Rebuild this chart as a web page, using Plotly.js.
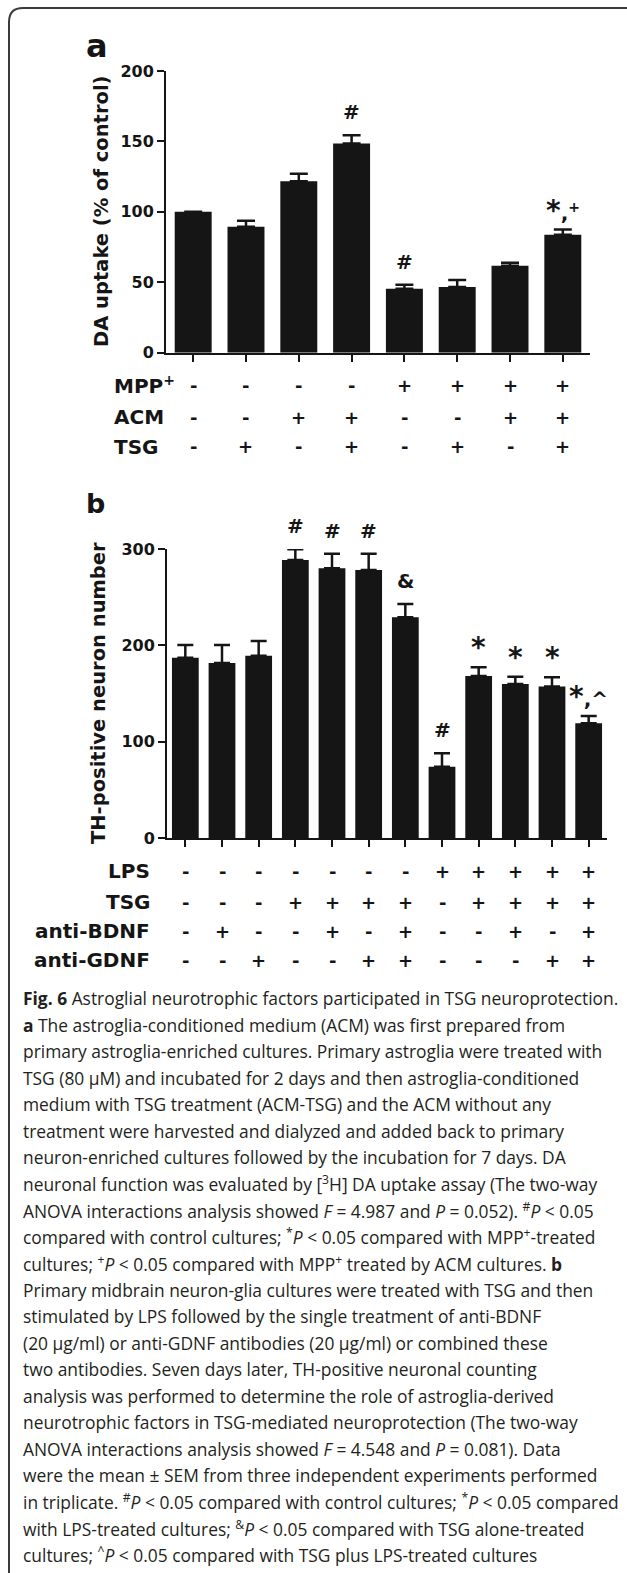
<!DOCTYPE html>
<html><head><meta charset="utf-8">
<script src="https://cdn.plot.ly/plotly-3.0.1.min.js"></script>
<style>html,body{margin:0;padding:0;background:#fff;} #chart{width:627px;height:1573px;}</style>
</head><body><div id="chart"></div>
<script>
// ---------- Panel a data ----------
const catA = ['Control','TSG','ACM','ACM+TSG','MPP+','MPP+ TSG','MPP+ ACM','MPP+ ACM TSG'];
const valA = [100, 89.5, 121.8, 148.6, 45.4, 46.6, 61.8, 83.8];
const semA = [0, 4.1, 5.2, 5.7, 2.8, 5.0, 2.1, 3.6];
const sigA = ['', '', '', '#', '#', '', '', '*,+'];
const rowLabelsA = ['MPP<sup>+</sup>', 'ACM', 'TSG'];
const rowMPP = ['-','-','-','-','+','+','+','+'];
const rowACM = ['-','-','+','+','-','-','+','+'];
const rowTSGa = ['-','+','-','+','-','+','-','+'];
const yTicksA = [0, 50, 100, 150, 200];
const yTitleA = 'DA uptake (% of control)';

// ---------- Panel b data ----------
const catB = ['Control','anti-BDNF','anti-GDNF','TSG','TSG+aB','TSG+aG','TSG+aB+aG','LPS','LPS+TSG','LPS+TSG+aB','LPS+TSG+aG','LPS+TSG+aB+aG'];
const valB = [187.3, 181.8, 189.4, 288.7, 280.0, 278.3, 229.3, 74.3, 168.4, 160.0, 157.3, 119.3];
const semB = [13.2, 18.7, 15.3, 11.1, 15.0, 16.7, 13.7, 13.9, 9.0, 7.6, 9.7, 7.6];
const sigB = ['', '', '', '#', '#', '#', '&', '#', '*', '*', '*', '*,^'];
const rowLabelsB = ['LPS', 'TSG', 'anti-BDNF', 'anti-GDNF'];
const rowLPS  = ['-','-','-','-','-','-','-','+','+','+','+','+'];
const rowTSGb = ['-','-','-','+','+','+','+','-','+','+','+','+'];
const rowBDNF = ['-','+','-','-','+','-','+','-','-','+','-','+'];
const rowGDNF = ['-','-','+','-','-','+','+','-','-','-','+','+'];
const yTicksB = [0, 100, 200, 300];
const yTitleB = 'TH-positive neuron number';

// ---------- Caption ----------
const caption = [
 '<b>Fig. 6</b> Astroglial neurotrophic factors participated in TSG neuroprotection.',
 '<b>a</b> The astroglia-conditioned medium (ACM) was first prepared from',
 'primary astroglia-enriched cultures. Primary astroglia were treated with',
 'TSG (80 µM) and incubated for 2 days and then astroglia-conditioned',
 'medium with TSG treatment (ACM-TSG) and the ACM without any',
 'treatment were harvested and dialyzed and added back to primary',
 'neuron-enriched cultures followed by the incubation for 7 days. DA',
 'neuronal function was evaluated by [<sup>3</sup>H] DA uptake assay (The two-way',
 'ANOVA interactions analysis showed <i>F</i> = 4.987 and <i>P</i> = 0.052). <sup>#</sup><i>P</i> &lt; 0.05',
 'compared with control cultures; <sup>*</sup><i>P</i> &lt; 0.05 compared with MPP<sup>+</sup>-treated',
 'cultures; <sup>+</sup><i>P</i> &lt; 0.05 compared with MPP<sup>+</sup> treated by ACM cultures. <b>b</b>',
 'Primary midbrain neuron-glia cultures were treated with TSG and then',
 'stimulated by LPS followed by the single treatment of anti-BDNF',
 '(20 µg/ml) or anti-GDNF antibodies (20 µg/ml) or combined these',
 'two antibodies. Seven days later, TH-positive neuronal counting',
 'analysis was performed to determine the role of astroglia-derived',
 'neurotrophic factors in TSG-mediated neuroprotection (The two-way',
 'ANOVA interactions analysis showed <i>F</i> = 4.548 and <i>P</i> = 0.081). Data',
 'were the mean ± SEM from three independent experiments performed',
 'in triplicate. <sup>#</sup><i>P</i> &lt; 0.05 compared with control cultures; <sup>*</sup><i>P</i> &lt; 0.05 compared',
 'with LPS-treated cultures; <sup>&amp;</sup><i>P</i> &lt; 0.05 compared with TSG alone-treated',
 'cultures; <sup>^</sup><i>P</i> &lt; 0.05 compared with TSG plus LPS-treated cultures'
];

// ---------- helpers / styles ----------
const W = 627, H = 1573;
const px = x => x / W;
const py = y => 1 - y / H;
const BOLD = 'DejaVu Sans, Liberation Sans, Arial, sans-serif';
const INK = '#151515';
const boldFont = (s) => ({family: BOLD, size: s, color: INK, weight: 'bold'});

function sigHtml(s) {
  return s.replace('*', '<span style="font-size:28px">*</span>').replace(',+', ',<sup>+</sup>');
}
// a zero SEM draws no error bar
const errArr = a => a.map(v => (v > 0 ? v : NaN));

const traces = [
  {type:'bar', x: catA, y: valA, xaxis:'x', yaxis:'y', width: 0.70,
   marker:{color: INK, line:{width:0}},
   error_y:{type:'data', symmetric:false, array: errArr(semA), arrayminus: semA.map(()=>0),
            thickness: 2.5, width: 9, color: INK},
   hoverinfo:'skip'},
  {type:'bar', x: catB, y: valB, xaxis:'x2', yaxis:'y2', width: 0.73,
   marker:{color: INK, line:{width:0}},
   error_y:{type:'data', symmetric:false, array: errArr(semB), arrayminus: semB.map(()=>0),
            thickness: 2.5, width: 8, color: INK},
   hoverinfo:'skip'}
];

const ann = [];
// panel letters
ann.push({text:'<b>a</b>', xref:'paper', yref:'paper', x: px(84), y: py(46), xanchor:'left', yanchor:'middle',
          showarrow:false, font: boldFont(32)});
ann.push({text:'<b>b</b>', xref:'paper', yref:'paper', x: px(84), y: py(503), xanchor:'left', yanchor:'middle',
          showarrow:false, font: boldFont(27)});
// y titles
ann.push({text:'<b>'+yTitleA+'</b>', xref:'paper', yref:'paper', x: px(101), y: py(211), xanchor:'center', yanchor:'middle',
          textangle:-90, showarrow:false, font: boldFont(19.5)});
ann.push({text:'<b>'+yTitleB+'</b>', xref:'paper', yref:'paper', x: px(98), y: py(693), xanchor:'center', yanchor:'middle',
          textangle:-90, showarrow:false, font: boldFont(19.5)});

// significance marks
function addSig(cats, vals, sems, sigs, xr, yr) {
  sigs.forEach((s, i) => {
    if (!s) return;
    const star = s.startsWith('*');
    ann.push({text:'<b>'+sigHtml(s)+'</b>', xref: xr, yref: yr, x: cats[i], y: vals[i] + sems[i],
              xanchor:'center', yanchor:'bottom', yshift: star ? 1 : 9, showarrow:false, font: boldFont(20)});
  });
}
addSig(catA, valA, semA, sigA, 'x', 'y');
addSig(catB, valB, semB, sigB, 'x2', 'y2');

// tables
function addRows(cats, rows, labels, rowY, xr, labelX, labelAnchor) {
  rows.forEach((row, r) => {
    ann.push({text:'<b>'+labels[r]+'</b>', xref:'paper', yref:'paper', x: px(labelX), y: py(rowY[r]),
              xanchor: labelAnchor, yanchor:'middle', showarrow:false, font: boldFont(20)});
    row.forEach((s, i) => {
      ann.push({text:'<b>'+s+'</b>', xref: xr, yref:'paper', x: cats[i], y: py(rowY[r]),
                xanchor:'center', yanchor:'middle', showarrow:false, font: boldFont(18)});
    });
  });
}
addRows(catA, [rowMPP, rowACM, rowTSGa], rowLabelsA, [385, 417, 447], 'x', 112, 'left');
addRows(catB, [rowLPS, rowTSGb, rowBDNF, rowGDNF], rowLabelsB, [871, 902, 931, 960], 'x2', 152, 'right');

// caption
caption.forEach((line, i) => {
  ann.push({text: line, xref:'paper', yref:'paper', x: px(21), y: py(998 + i * 26.5),
            xanchor:'left', yanchor:'middle', showarrow:false, align:'left',
            font:{family:'Open Sans, Lato, sans-serif', size: 17.4, color:'#231f20'}});
});

const axX = {showline:true, linewidth:2, linecolor:INK, ticks:'outside', ticklen:7, tickwidth:2, tickcolor:INK,
             showticklabels:false, showgrid:false, zeroline:false, fixedrange:true};
const axY = {showline:true, linewidth:2, linecolor:INK, ticks:'outside', ticklen:7, tickwidth:2, tickcolor:INK,
             showgrid:false, zeroline:false, tickfont: boldFont(16), fixedrange:true, tickmode:'array'};

const layout = {
  width: W, height: H, margin:{l:0, r:0, t:0, b:0}, paper_bgcolor:'#fff', plot_bgcolor:'rgba(0,0,0,0)',
  showlegend:false, font:{family: BOLD},
  xaxis: Object.assign({}, axX, {domain:[px(166), px(590)], anchor:'y', type:'category', range:[-0.515, 7.515]}),
  yaxis: Object.assign({}, axY, {domain:[py(352.7), py(71)], anchor:'x', range:[0, 200], tickvals: yTicksA, ticktext: yTicksA.map(v=>'<b>'+v+'</b>')}),
  xaxis2: Object.assign({}, axX, {domain:[px(167), px(607)], anchor:'y2', type:'category', range:[-0.5, 11.5]}),
  yaxis2: Object.assign({}, axY, {domain:[py(838.3), py(549)], anchor:'x2', range:[0, 300], tickvals: yTicksB, ticktext: yTicksB.map(v=>'<b>'+v+'</b>')}),
  annotations: ann,
  shapes: [{type:'path', xref:'paper', yref:'paper', layer:'above',
            path: `M ${px(9)} 0 L ${px(9)} ${py(22)} Q ${px(9)} ${py(8)} ${px(23)} ${py(8)} L 1 ${py(8)}`,
            line:{color:'#3a3a3a', width:2}}]
};

Plotly.newPlot('chart', traces, layout, {displayModeBar:false, staticPlot:true});
</script></body></html>
